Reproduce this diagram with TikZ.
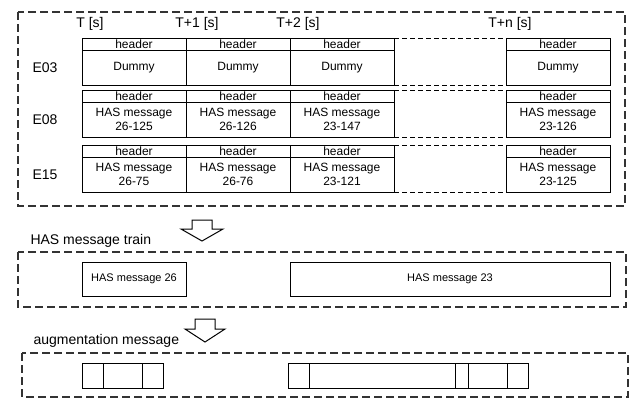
\documentclass[tikz,border=0pt]{standalone}
\usepackage{fontspec}
\setmainfont{Liberation Sans}
\usetikzlibrary{positioning}

\begin{document}
\begin{tikzpicture}[x=1pt,y=-1pt,
    hd/.style={draw,line width=1pt,minimum width=104pt,minimum height=12pt,inner sep=0pt,outer sep=0pt,font=\fontsize{12}{12}\selectfont},
    bd/.style={draw,line width=1pt,minimum width=104pt,minimum height=35pt,inner sep=0pt,outer sep=0pt,align=center,font=\fontsize{12}{14}\selectfont},
    tlab/.style={font=\fontsize{14}{14}\selectfont},
    sect/.style={draw=black!80,line width=1.2pt,dash pattern=on 8pt off 4pt},
    gapline/.style={line width=1pt,dash pattern=on 5pt off 3pt},
    fld/.style={draw,line width=1pt,minimum height=25pt,inner sep=0pt,outer sep=0pt},
    blk/.style={draw,line width=1pt,fill=white}]
  \useasboundingbox (0,0) rectangle (636,399);
  % frames
  \draw[sect] (18,12) rectangle (625,206);
  \draw[sect] (18,252) rectangle (626,307);
  \draw[sect] (22,353) rectangle (628,397);
  % time labels
  \node[tlab] (t0) at (90,24) {T [s]};
  \node[tlab] (t1) at (197,24) {T+1 [s]};
  \node[tlab] (t2) at (298,24) {T+2 [s]};
  \node[tlab] (tn) at (510,24) {T+n [s]};
  % E03
  \node[hd,anchor=north west] (a1h) at (82,38) {header};
  \node[bd,below=0pt of a1h] (a1b) {Dummy};
  \node[hd,right=0pt of a1h] (a2h) {header};
  \node[bd,below=0pt of a2h] (a2b) {Dummy};
  \node[hd,right=0pt of a2h] (a3h) {header};
  \node[bd,below=0pt of a3h] (a3b) {Dummy};
  \node[hd,anchor=north west] (anh) at (506,38) {header};
  \node[bd,below=0pt of anh] (anb) {Dummy};
  \node[tlab,left=21pt of a1b] (ea) {E03};
  % E08
  \node[hd,anchor=north west] (b1h) at (82,90) {header};
  \node[bd,below=0pt of b1h] (b1b) {HAS message\\26-125};
  \node[hd,right=0pt of b1h] (b2h) {header};
  \node[bd,below=0pt of b2h] (b2b) {HAS message\\26-126};
  \node[hd,right=0pt of b2h] (b3h) {header};
  \node[bd,below=0pt of b3h] (b3b) {HAS message\\23-147};
  \node[hd,anchor=north west] (bnh) at (506,90) {header};
  \node[bd,below=0pt of bnh] (bnb) {HAS message\\23-126};
  \node[tlab,left=21pt of b1b] (eb) {E08};
  % E15
  \node[hd,anchor=north west] (c1h) at (82,145) {header};
  \node[bd,below=0pt of c1h] (c1b) {HAS message\\26-75};
  \node[hd,right=0pt of c1h] (c2h) {header};
  \node[bd,below=0pt of c2h] (c2b) {HAS message\\26-76};
  \node[hd,right=0pt of c2h] (c3h) {header};
  \node[bd,below=0pt of c3h] (c3b) {HAS message\\23-121};
  \node[hd,anchor=north west] (cnh) at (506,145) {header};
  \node[bd,below=0pt of cnh] (cnb) {HAS message\\23-125};
  \node[tlab,left=21pt of c1b] (ec) {E15};
  % skipped seconds
  \draw[gapline] (a3h.north east) -- (anh.north west);
  \draw[gapline] (a3b.south east) -- (anb.south west);
  \draw[gapline] (b3h.north east) -- (bnh.north west);
  \draw[gapline] (b3b.south east) -- (bnb.south west);
  \draw[gapline] (c3h.north east) -- (cnh.north west);
  \draw[gapline] (c3b.south east) -- (cnb.south west);
  % message train
  \draw[blk] (192,220) -- (212,220) -- (212,229) -- (223,229) -- (202,241) -- (181,229) -- (192,229) -- cycle;
  \node[tlab,anchor=west] (train) at (27,241) {HAS message train};
  \node[fld,anchor=north west,minimum width=104pt,minimum height=34pt,font=\fontsize{11}{11}\selectfont] (m26) at (82,262) {HAS message 26};
  \node[fld,anchor=north west,minimum width=320pt,minimum height=34pt,font=\fontsize{11}{11}\selectfont] (m23) at (290,262) {HAS message 23};
  % augmentation message
  \draw[blk] (195,319) -- (215,319) -- (215,329) -- (225,329) -- (205,342) -- (185,329) -- (195,329) -- cycle;
  \node[tlab,anchor=west] (aug) at (30,341) {augmentation message};
  \node[fld,anchor=north west,minimum width=21pt] (f1) at (82,363) {};
  \node[fld,right=0pt of f1,minimum width=39pt] (f2) {};
  \node[fld,right=0pt of f2,minimum width=21pt] (f3) {};
  \node[fld,anchor=north west,minimum width=21pt] (g1) at (288,363) {};
  \node[fld,right=0pt of g1,minimum width=146pt] (g2) {};
  \node[fld,right=0pt of g2,minimum width=13pt] (g3) {};
  \node[fld,right=0pt of g3,minimum width=39pt] (g4) {};
  \node[fld,right=0pt of g4,minimum width=21pt] (g5) {};
\end{tikzpicture}
\end{document}
